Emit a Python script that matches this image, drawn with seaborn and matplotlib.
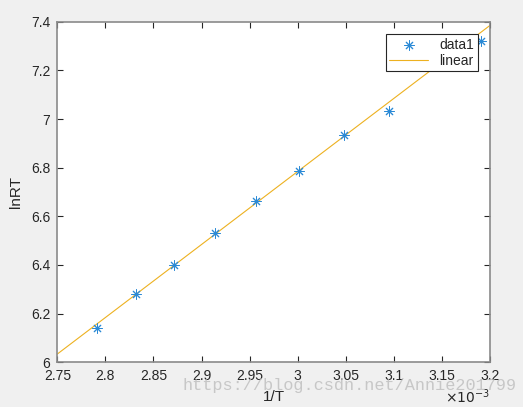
import numpy as np
import matplotlib
matplotlib.use("Agg")
import matplotlib.pyplot as plt
import seaborn as sns

# measured points (1/T in 1/K, lnRT)
inv_T = np.array([2.791, 2.8315, 2.8717, 2.9137, 2.9566, 3.0017, 3.0481, 3.095, 3.191]) * 1e-3
ln_RT = np.array([6.140, 6.281, 6.398, 6.531, 6.661, 6.787, 6.935, 7.033, 7.322])

# fitted line, read at the two ends of the axis
fit_x = np.array([2.75, 3.20]) * 1e-3
fit_y = np.array([6.034, 7.385])

x_ticks = np.array([2.75, 2.8, 2.85, 2.9, 2.95, 3.0, 3.05, 3.1, 3.15, 3.2]) * 1e-3
x_labels = ['2.75', '2.8', '2.85', '2.9', '2.95', '3', '3.05', '3.1', '3.15', '3.2']
y_ticks = [6.0, 6.2, 6.4, 6.6, 6.8, 7.0, 7.2, 7.4]
y_labels = ['6', '6.2', '6.4', '6.6', '6.8', '7', '7.2', '7.4']

sns.set_theme(style="white")
plt.rcParams['font.family'] = ['Liberation Sans', 'DejaVu Sans']

fig = plt.figure(figsize=(5.23, 4.07), dpi=100, facecolor='#f0f0f0')
ax = fig.add_axes([0.1096, 0.1098, 0.8274, 0.8369])
ax.set_facecolor('white')

sns.scatterplot(x=inv_T, y=ln_RT, marker=(8, 2, 0), s=45, color='#2b8ad6',
                linewidth=0.7, label='data1', ax=ax, zorder=3)
sns.lineplot(x=fit_x, y=fit_y, color='#EDB120', linewidth=0.8, label='linear', ax=ax)

ax.set_xlim(2.75e-3, 3.2e-3)
ax.set_ylim(6, 7.4)
ax.set_xticks(x_ticks)
ax.set_xticklabels(x_labels)
ax.set_yticks(y_ticks)
ax.set_yticklabels(y_labels)

ax.tick_params(direction='in', length=4, width=0.8, color='#262626',
               labelsize=10, labelcolor='#262626', top=True, right=True,
               bottom=True, left=True, pad=5)
for s in ax.spines.values():
    s.set_color('#8a8a8a')
    s.set_linewidth(1.2)

ax.set_xlabel('1/T', fontsize=11, color='#262626', labelpad=5)
ax.set_ylabel('lnRT', fontsize=11, color='#262626', labelpad=6)

# exponent of the x axis, as MATLAB draws it
ax.text(1.0, -0.075, r'$\times10^{-3}$', transform=ax.transAxes, fontsize=10,
        color='#262626', ha='right', va='top')

leg = ax.legend(loc='upper right', fancybox=False, framealpha=1, edgecolor='#262626',
                fontsize=10, borderaxespad=0.9, handlelength=2.8, borderpad=0.25,
                labelspacing=0.15)
leg.get_frame().set_linewidth(0.8)

fig.text(0.348, 0.052, 'https://blog.csdn.net/Annie201799', family='Liberation Mono',
         fontsize=12.2, color='#bdbdbd', alpha=0.8, va='center', ha='left')

fig.savefig('out.png', dpi=100, facecolor=fig.get_facecolor())
